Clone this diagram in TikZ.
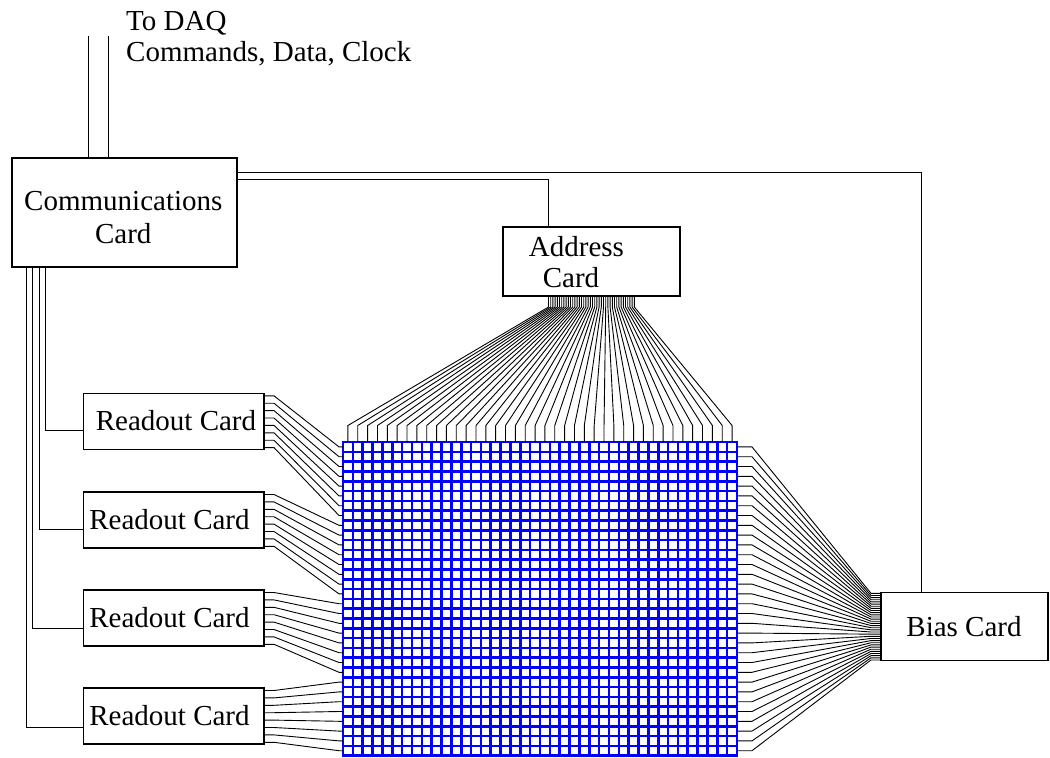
\documentclass[tikz,border=0pt]{standalone}
\usepackage{fontspec}
\setmainfont{Liberation Serif}
\usetikzlibrary{calc}
\begin{document}
\begin{tikzpicture}[x=1pt,y=-1pt,
  card/.style={draw=black,line width=1.3pt,inner sep=0pt,outer sep=0pt,anchor=north west},
  lbl/.style={font=\fontsize{29}{33}\selectfont,inner sep=0pt,anchor=base},
  wire/.style={draw=black,line width=0.9pt},
  gridline/.style={draw=blue,line width=2.6pt}]
\useasboundingbox (0,0) rectangle (1050,758);
% boxes
\node[card,minimum width=225pt,minimum height=109pt] (comm) at (12,158) {};
\node[card,minimum width=177pt,minimum height=69pt] (addr) at (503,227) {};
\node[card,minimum width=167pt,minimum height=68.4pt] (bias) at (881,592.3) {};
\node[card,minimum width=180.5pt,minimum height=56pt] (ro1) at (83.5,393.3) {};
\node[card,minimum width=180.5pt,minimum height=56pt] (ro2) at (83.5,492) {};
\node[card,minimum width=180.5pt,minimum height=56pt] (ro3) at (83.5,590) {};
\node[card,minimum width=180.5pt,minimum height=56pt] (ro4) at (83.5,688) {};
\node[inner sep=0pt,outer sep=0pt,minimum width=394pt,minimum height=313.6pt,anchor=north west] (grid) at (343,442) {};
% texts
\node[lbl] (commt1) at (123.3,210) {Communications};
\node[lbl] (commt2) at (123.3,243) {Card};
\node[lbl] (addrt1) at (576.5,256) {Address};
\node[lbl] (addrt2) at (571,287) {Card};
\node[lbl] (biast) at (964,636) {Bias Card};
\node[lbl] (ro1t) at (176,430.3) {Readout Card};
\node[lbl] (ro2t) at (169.5,529) {Readout Card};
\node[lbl] (ro3t) at (169.5,627) {Readout Card};
\node[lbl] (ro4t) at (169.5,725) {Readout Card};
\node[lbl,anchor=base west] (daqt1) at (126,30) {To DAQ};
\node[lbl,anchor=base west] (daqt2) at (126,61) {Commands, Data, Clock};
% grid
\foreach \i in {0,...,40} \draw[gridline] ($(grid.north west)+(\i*9.85,0)$) -- ($(grid.south west)+(\i*9.85,0)$);
\foreach \j in {0,...,32} \draw[gridline] ($(grid.north west)+(-1.3,\j*9.8)$) -- ($(grid.north east)+(1.3,\j*9.8)$);
% DAQ lines
\coordinate (daq1) at (88,36);
\coordinate (daq2) at (108,36);
\draw[wire] (daq1) -- (daq1 |- comm.north);
\draw[wire] (daq2) -- (daq2 |- comm.north);
% comm to bias and address
\draw[wire] ($(comm.north east)+(0,14.7)$) -| ($(bias.north west)+(40.7,0)$);
\draw[wire] ($(comm.north east)+(0,21)$) -| ($(addr.north west)+(45,0)$);
% comm to readout cards
\draw[wire] ($(comm.south west)+(14.7,0)$) |- ($(ro4.north west)+(0,39)$);
\draw[wire] ($(comm.south west)+(20.7,0)$) |- ($(ro3.north west)+(0,38)$);
\draw[wire] ($(comm.south west)+(27.3,0)$) |- ($(ro2.north west)+(0,37)$);
\draw[wire] ($(comm.south west)+(33.7,0)$) |- ($(ro1.north west)+(0,37.4)$);
% readout wires
\foreach \c in {1,2,3,4} {
  \foreach \k in {0,...,7} {
    \pgfmathsetmacro{\r}{8*(\c-1)+\k}
    \draw[wire] ($(ro\c.north east)+(0,2.5+7.4*\k)$) -- ++(10,0)
      -- ($(grid.north west)+(-4,4.9+9.8*\r)$) -- ($(grid.north west)+(0,4.9+9.8*\r)$);
  }
}
% bias wires
\foreach \r in {0,...,31} {
  \draw[wire] ($(grid.north east)+(0,4.9+9.8*\r)$) -- ++(15,0)
    -- ($(bias.north west)+(-10,1+2.15*\r)$) -- ($(bias.north west)+(0,1+2.15*\r)$);
}
% address wires
\foreach \i in {0,...,39} {
  \draw[wire] ($(addr.south west)+(45.5+2.2*\i,0)$) -- ++(0,11)
    -- ($(grid.north west)+(4.93+9.85*\i,-16.5)$) -- ($(grid.north west)+(4.93+9.85*\i,0)$);
}
\end{tikzpicture}
\end{document}
